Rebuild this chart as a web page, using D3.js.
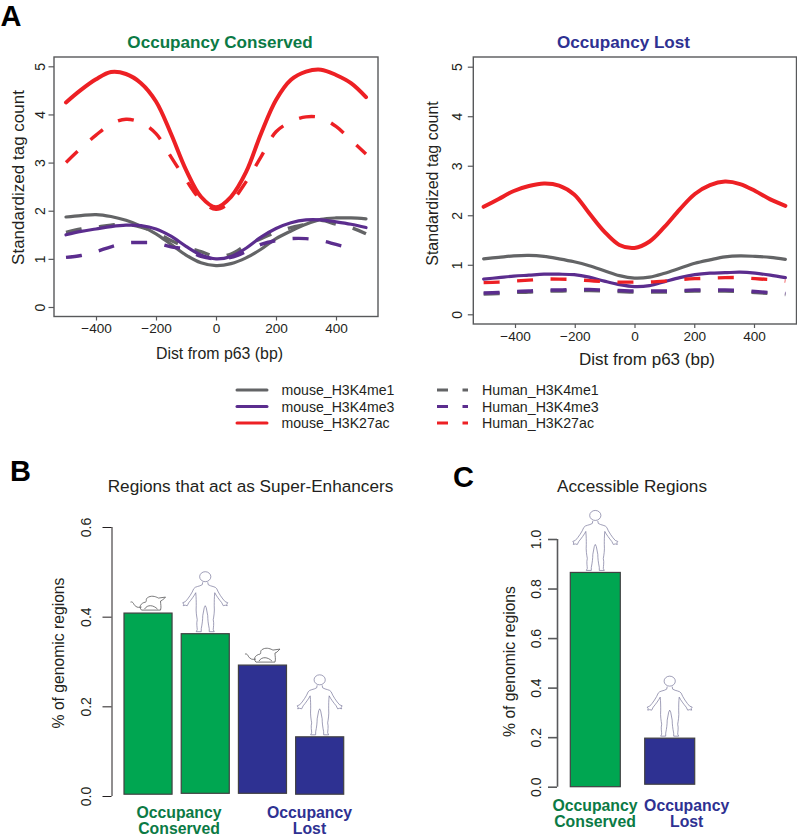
<!DOCTYPE html>
<html><head><meta charset="utf-8">
<script src="https://cdn.jsdelivr.net/npm/d3@7"></script>
<style>
html,body{margin:0;padding:0;background:#fff}
svg{display:block}
text{font-family:"Liberation Sans",Arial,sans-serif;fill:#231f20}
</style></head><body>
<svg id="c" width="797" height="840"></svg>
<script>
const xConserved = [-500,-450,-400,-350,-300,-250,-200,-150,-100,-50,0,50,100,150,200,250,300,350,400,450,500];
const xLost = [-505,-454.5,-404,-353.5,-303,-252.5,-202,-151.5,-101,-50.5,0,50.5,101,151.5,202,252.5,303,353.5,404,454.5,505];
const consMouseMe1 = [1.87,1.9,1.92,1.88,1.8,1.68,1.52,1.3,1.08,.92,.86,.9,1.02,1.2,1.42,1.58,1.72,1.82,1.85,1.85,1.83];
const consHumanMe1 = [1.55,1.62,1.66,1.7,1.72,1.66,1.55,1.38,1.25,1.15,1.05,1.1,1.28,1.42,1.55,1.65,1.72,1.8,1.72,1.65,1.52];
const consMouseMe3 = [1.5,1.57,1.62,1.67,1.7,1.69,1.62,1.47,1.26,1.08,1,1.05,1.22,1.45,1.63,1.75,1.81,1.81,1.77,1.72,1.65];
const consHumanMe3 = [1.03,1.07,1.15,1.25,1.33,1.34,1.33,1.25,1.2,1.05,1,1.03,1.15,1.3,1.38,1.42,1.42,1.38,1.3,1.22];
const consMouseAc = [4.25,4.51,4.73,4.88,4.84,4.65,4.27,3.6,2.85,2.29,2.07,2.29,2.8,3.6,4.3,4.72,4.89,4.93,4.82,4.65,4.36];
const consHumanAc = [3,3.3,3.57,3.8,3.9,3.83,3.6,3.12,2.64,2.22,2.03,2.19,2.6,3.12,3.64,3.85,3.95,3.93,3.75,3.47,3.18];
const lostMouseMe1 = [1.12,1.15,1.18,1.19,1.17,1.12,1.06,.98,.88,.78,.73,.75,.83,.93,1.03,1.1,1.16,1.18,1.17,1.15,1.11];
const lostHumanMe1 = [.41,.42,.44,.45,.47,.47,.48,.48,.47,.46,.45,.45,.45,.46,.47,.47,.47,.46,.44,.42,.4];
const lostMouseMe3 = [.71,.74,.77,.79,.81,.81,.8,.75,.67,.6,.56,.58,.66,.74,.8,.83,.84,.85,.83,.79,.74];
const lostHumanMe3 = [.43,.44,.46,.47,.49,.49,.5,.5,.49,.48,.47,.47,.47,.48,.49,.49,.49,.48,.46,.44,.42];
const lostMouseAc = [2.17,2.33,2.49,2.59,2.64,2.6,2.42,2.04,1.67,1.4,1.34,1.47,1.77,2.12,2.43,2.61,2.68,2.63,2.49,2.32,2.19];
const lostHumanAc = [.64,.65,.67,.69,.71,.71,.7,.68,.66,.65,.65,.65,.67,.7,.72,.73,.74,.74,.72,.7,.67];
const xTicks = [-400,-200,0,200,400];
const yTicksLines = [0,1,2,3,4,5];
const legendMouse = ["mouse_H3K4me1","mouse_H3K4me3","mouse_H3K27ac"];
const legendHuman = ["Human_H3K4me1","Human_H3K4me3","Human_H3K27ac"];
const markColors = ["#636466","#5b2d8e","#ed2024"];
const regionsTop = [.408,.362,.292,.132];
const regionsBase = [.004,.006,.006,.004];
const regionsIcons = ["mouse","human","mouse","human"];
const accessibleTop = [.865,.196];
const accessibleBase = [0,.01];
const accessibleIcons = ["human","human"];
const GREEN="#00a651", BLUE="#2e3192", GREENT="#0b7a45";

const svg = d3.select("#c");
const minus = t => String(t).replace("-","\u2212");

function rotLabel(g){ g.selectAll("text").attr("transform",function(){
  const x=+d3.select(this).attr("x"); return `rotate(-90 ${x} 0)`;}).attr("text-anchor","middle").attr("dy","0.36em"); }

function linePanel(o){
  const x=d3.scaleLinear().domain([-400,400]).range(o.xr);
  const y=d3.scaleLinear().domain([0,5]).range(o.yr);
  const g=svg.append("g");
  const line=xs=>d3.line().x((d,i)=>x(xs[i])).y(d=>y(d)).curve(d3.curveCatmullRom.alpha(.5));
  o.series.forEach(s=>{
    g.append("path").attr("d",line(o.xs)(s.v)).attr("fill","none").attr("stroke",s.c)
      .attr("stroke-width",s.dash?3.4:s.w).attr("stroke-linecap",s.dash?"butt":"round").attr("stroke-linejoin","round")
      .attr("stroke-dasharray",s.dash?"16 17.5":null);
  });
  g.append("rect").attr("x",o.box[0]).attr("y",o.box[1]).attr("width",o.box[2]-o.box[0]).attr("height",o.box[3]-o.box[1])
    .attr("fill","none").attr("stroke","#58595b").attr("stroke-width",1.4);
  const ax=g.append("g").attr("transform",`translate(0,${o.box[3]})`)
    .call(d3.axisBottom(x).tickValues(xTicks).tickSize(4).tickPadding(3).tickFormat(minus));
  ax.select(".domain").remove();
  ax.selectAll("line").attr("stroke","#58595b").attr("stroke-width",1.2);
  ax.selectAll("text").attr("font-size",13.6).attr("font-family","Liberation Sans").attr("fill","#231f20");
  const ay=g.append("g").attr("transform",`translate(${o.box[0]},0)`)
    .call(d3.axisLeft(y).tickValues(yTicksLines).tickSize(5.5).tickPadding(o.yPad).tickFormat(d3.format("d")));
  ay.select(".domain").remove();
  ay.selectAll("line").attr("stroke","#58595b").attr("stroke-width",1.2);
  ay.selectAll("text").attr("font-size",14).attr("font-family","Liberation Sans").attr("fill","#231f20");
  rotLabel(ay);
  g.append("text").attr("x",o.xt[0]).attr("y",o.xt[1]).attr("text-anchor","middle").attr("font-size",o.xfs).text("Dist from p63 (bp)");
  g.append("text").attr("transform",`translate(${o.yt[0]},${o.yt[1]}) rotate(-90)`).attr("text-anchor","middle").attr("font-size",o.yfs).text("Standardized tag count");
  g.append("text").attr("x",o.tt[0]).attr("y",o.tt[1]).attr("text-anchor","middle").attr("font-size",17.1).attr("font-weight","bold").style("fill",o.tc).text(o.title);
}
const mk=(a)=>[
 {v:a[0],c:markColors[0],w:3.2},{v:a[1],c:markColors[0],dash:1},
 {v:a[2],c:markColors[1],w:3.2},{v:a[3],c:markColors[1],dash:1},
 {v:a[5],c:markColors[2],dash:1},{v:a[4],c:markColors[2],w:4}];
linePanel({xs:xConserved,xr:[96,336],yr:[307,66.3],box:[54,57,378,316.5],xt:[219.5,358.5],yt:[24,177.5],tt:[220,48],xfs:15.9,yfs:17,yPad:9,tc:GREENT,title:"Occupancy Conserved",
  series:mk([consMouseMe1,consHumanMe1,consMouseMe3,consHumanMe3,consMouseAc,consHumanAc])});
linePanel({xs:xLost,xr:[515,754],yr:[314.3,66.7],box:[473.3,57,796.5,324],xt:[647,364.5],yt:[437.5,183.5],tt:[623.5,48],xfs:17,yfs:16,yPad:11,tc:BLUE,title:"Occupancy Lost",
  series:mk([lostMouseMe1,lostHumanMe1,lostMouseMe3,lostHumanMe3,lostMouseAc,lostHumanAc])});

// legend
const legY=d3.scalePoint().domain([0,1,2]).range([390,423]);
legendMouse.forEach((t,i)=>{
  svg.append("line").attr("x1",237).attr("x2",267).attr("y1",legY(i)).attr("y2",legY(i)).attr("stroke",markColors[i]).attr("stroke-width",3).attr("stroke-linecap","round");
  svg.append("text").attr("x",281.5).attr("y",legY(i)+5).attr("font-size",14.1).text(t);
});
legendHuman.forEach((t,i)=>{
  svg.append("line").attr("x1",437).attr("x2",468).attr("y1",legY(i)).attr("y2",legY(i)).attr("stroke",markColors[i]).attr("stroke-width",3).attr("stroke-dasharray","11 14.5 5.5 0");
  svg.append("text").attr("x",482).attr("y",legY(i)+5).attr("font-size",14.2).text(t);
});

// icons
const humanHalf="M20.5 10.5 L20 13 C17 15 13 14.5 11.5 17 C10 21 6 27 3 30 L0.5 31 L1.5 32.5 L1 34 L3 33.5 L5 34 L6.5 31 C9 28 12 24 13.5 21 C14 26 14 30 14 34 C13.5 40 14.5 45 15 48 C14 52 15 56 15 58 L14 60 L19 60 L19 57 C20 52 20.5 48 20.5 44 L22 36 L23 34";
function human(cx,bottom){
  const g=svg.append("g").attr("transform",`translate(${cx-23},${bottom-60})`).attr("fill","none").attr("stroke","#77769a").attr("stroke-width",.7);
  g.append("ellipse").attr("cx",23).attr("cy",5).attr("rx",5.6).attr("ry",5);
  g.append("path").attr("d",humanHalf);
  g.append("path").attr("d",humanHalf).attr("transform","translate(46,0) scale(-1,1)");
}
function mouse(cx,bottom){
  const g=svg.append("g").attr("transform",`translate(${cx-17.5},${bottom-15})`).attr("fill","none").attr("stroke","#4d4d4f").attr("stroke-width",.75);
  g.append("path").attr("d","M0 7 C3 6 3 10 5 11 C7 13 9 12 11 12");
  g.append("path").attr("d","M11 15 C8 12 10 8 15 7 C17 6 14 4 18 2 C22 0 26 2 28 3 L35 2 L32 5 L30 6 C30 9 31 12 30 15 L11 15");
  g.append("path").attr("d","M14 14 C17 9 23 10 27 14");
}

function barPanel(o){
  const y=d3.scaleLinear().domain(o.dom).range(o.yr);
  const x=d3.scaleBand().domain(d3.range(o.top.length)).range(o.xr).paddingInner(o.pad).paddingOuter(0);
  const g=svg.append("g");
  g.selectAll("rect").data(o.top).join("rect")
    .attr("x",(d,i)=>x(i)).attr("width",x.bandwidth())
    .attr("y",d=>y(d)).attr("height",(d,i)=>y(o.base[i])-y(d))
    .attr("fill",(d,i)=>o.colors[i]).attr("stroke","#414042").attr("stroke-width",1.2);
  o.icons.forEach((k,i)=>{
    const cx=x(i)+x.bandwidth()/2;
    if(k==="human") human(cx,y(o.top[i])-2); else mouse(cx,y(o.top[i])-3);
  });
  const ay=g.append("g").attr("transform",`translate(${o.ax},0)`)
    .call(d3.axisLeft(y).tickValues(o.ticks).tickSize(9).tickPadding(o.yPad).tickSizeOuter(0).tickFormat(d3.format(".1f")));
  ay.select(".domain").attr("stroke",o.axc).attr("stroke-width",o.axw).attr("d",`M0.5,${y(o.dom[0])}V${y(o.dom[1])}`);
  ay.selectAll("line").attr("stroke",o.axc).attr("stroke-width",o.axw);
  ay.selectAll("text").attr("font-size",14).attr("font-family","Liberation Sans").attr("fill","#231f20");
  rotLabel(ay);
  g.append("text").attr("transform",`translate(${o.yt[0]},${o.yt[1]}) rotate(-90)`).attr("text-anchor","middle").attr("font-size",15.7).text("% of genomic regions");
  g.append("text").attr("x",o.tt[0]).attr("y",o.tt[1]).attr("text-anchor","middle").attr("font-size",17.2).text(o.title);
  o.cats.forEach(c=>{
    c.lines.forEach((l,i)=>g.append("text").attr("x",c.x).attr("y",c.y+i*16).attr("text-anchor","middle").attr("font-size",15.8).attr("font-weight","bold").style("fill",c.c).text(l));
  });
}
barPanel({dom:[0,.6],yr:[796,527],xr:[124,343.7],pad:.16,top:regionsTop,base:regionsBase,icons:regionsIcons,yPad:16.5,
  colors:[GREEN,GREEN,BLUE,BLUE],ax:111.5,ticks:[0,.2,.4,.6],axc:"#231f20",axw:1,yt:[63.5,653],tt:[250.5,491.5],title:"Regions that act as Super-Enhancers",
  cats:[{lines:["Occupancy","Conserved"],x:179,y:818,c:GREENT},{lines:["Occupancy","Lost"],x:309.5,y:818,c:BLUE}]});
barPanel({dom:[0,1],yr:[786.7,539],xr:[570.3,694.7],pad:.328,top:accessibleTop,base:accessibleBase,icons:accessibleIcons,yPad:12.5,
  colors:[GREEN,BLUE],ax:557,ticks:[0,.2,.4,.6,.8,1],axc:"#58595b",axw:1.6,yt:[514.5,661.5],tt:[632,491.5],title:"Accessible Regions",
  cats:[{lines:["Occupancy","Conserved"],x:595,y:810.7,c:GREENT},{lines:["Occupancy","Lost"],x:686.7,y:810.7,c:BLUE}]});

// panel letters
[["A",0.5,26],["B",10,481],["C",453,486.5]].forEach(p=>svg.append("text").attr("x",p[1]).attr("y",p[2]).attr("font-size",29).attr("font-weight","bold").style("fill","#000").text(p[0]));
</script>
</body></html>
